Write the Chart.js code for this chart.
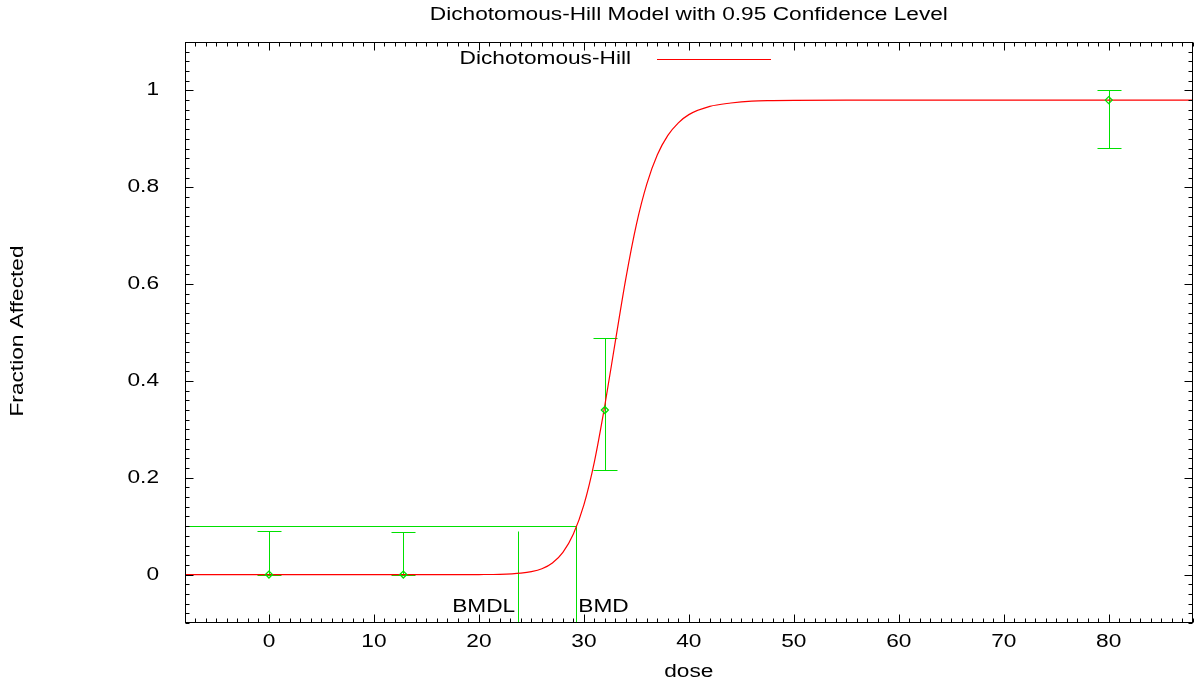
<!DOCTYPE html>
<html>
<head>
<meta charset="utf-8">
<script src="https://cdn.jsdelivr.net/npm/chart.js@4/dist/chart.umd.min.js"></script>
<style>
  html, body { margin: 0; padding: 0; background: #ffffff; }
  #wrap { width: 1198px; height: 684px; position: relative; }
</style>
</head>
<body>
<div id="wrap"><canvas id="c" width="1198" height="684"></canvas></div>
<script>
// ---- data ----
const titleText = "Dichotomous-Hill Model with 0.95 Confidence Level";
const xTitle = "dose";
const yTitle = "Fraction Affected";
const legendLabel = "Dichotomous-Hill";

// observed dose groups with 95% confidence intervals
const obsDose  = [0, 12.8, 32, 80];
const obsFrac  = [0, 0, 0.34, 0.98];
const obsLower = [0, 0, 0.215, 0.882];
const obsUpper = [0.09, 0.088, 0.488, 1.0];

// fitted model curve
const curveDose = [-8, 0, 10, 18, 20, 22, 24, 25, 26, 27, 28, 29, 30, 31, 32, 33, 34, 35, 36, 37, 38, 39, 40, 42, 44, 46, 48, 50, 55, 60, 70, 80, 88];
const curveFrac = [0, 0, 0, 0, 0.0001, 0.0006, 0.003, 0.006, 0.012, 0.024, 0.046, 0.084, 0.144, 0.233, 0.35, 0.482, 0.612, 0.723, 0.807, 0.867, 0.907, 0.933, 0.95, 0.967, 0.974, 0.978, 0.979, 0.9795, 0.98, 0.98, 0.98, 0.98, 0.98];

// benchmark dose markers
const bmr = 0.1;
const bmd = 29.28;
const bmdl = 23.74;
const bmdlTop = 0.09;

// axes
const xMin = -8, xMax = 88;
const yMin = -0.1, yMax = 1.1;
const xTickValues = [0, 10, 20, 30, 40, 50, 60, 70, 80];
const xTickLabels = ["0", "10", "20", "30", "40", "50", "60", "70", "80"];
const yTickValues = [0, 0.2, 0.4, 0.6, 0.8, 1];
const yTickLabels = ["0", "0.2", "0.4", "0.6", "0.8", "1"];
const xMinorStep = 1;
const yMinorStep = 0.02;

// ---- styles ----
const GREEN = '#00e000';
const RED = '#ff0000';
const FONT = '18px "Liberation Sans", Arial, sans-serif';
const SX = 1.26;

function sText(ctx, text, x, y, align, rot) {
  ctx.save();
  ctx.translate(x, y);
  if (rot) ctx.rotate(rot);
  ctx.scale(SX, 1);
  ctx.font = FONT;
  ctx.fillStyle = '#000';
  ctx.textAlign = align;
  ctx.textBaseline = 'middle';
  ctx.fillText(text, 0, 0);
  ctx.restore();
}

const crisp = v => Math.round(v) + 0.5;

const decorPlugin = {
  id: 'decor',
  beforeDatasetsDraw(chart) {
    const ctx = chart.ctx;
    const xs = chart.scales.x, ys = chart.scales.y;
    ctx.save();
    ctx.strokeStyle = GREEN;
    ctx.lineWidth = 1;
    ctx.beginPath();
    // error bars
    for (let i = 0; i < obsDose.length; i++) {
      const px = crisp(xs.getPixelForValue(obsDose[i]));
      const pl = crisp(ys.getPixelForValue(obsLower[i]));
      const pu = crisp(ys.getPixelForValue(obsUpper[i]));
      ctx.moveTo(px, pl); ctx.lineTo(px, pu);
      ctx.moveTo(px - 12, pl); ctx.lineTo(px + 12, pl);
      ctx.moveTo(px - 12, pu); ctx.lineTo(px + 12, pu);
    }
    // BMR / BMD / BMDL markers
    const yB = crisp(ys.getPixelForValue(bmr));
    const xB = crisp(xs.getPixelForValue(bmd));
    const xL = crisp(xs.getPixelForValue(bmdl));
    const yBot = ys.getPixelForValue(yMin);
    ctx.moveTo(xs.getPixelForValue(xMin), yB); ctx.lineTo(xB, yB); ctx.lineTo(xB, yBot);
    ctx.moveTo(xL, crisp(ys.getPixelForValue(bmdlTop))); ctx.lineTo(xL, yBot);
    ctx.stroke();
    ctx.restore();
  },
  afterDraw(chart) {
    const ctx = chart.ctx;
    const a = chart.chartArea;
    const xs = chart.scales.x, ys = chart.scales.y;
    const L = Math.round(a.left) + 0.5, R = Math.round(a.right) - 0.5;
    const T = Math.round(a.top) + 0.5, B = Math.round(a.bottom) - 0.5;
    ctx.save();
    ctx.strokeStyle = '#000';
    ctx.lineWidth = 1;
    ctx.strokeRect(L, T, R - L, B - T);
    ctx.beginPath();
    for (let v = Math.ceil(xMin); v <= xMax + 1e-9; v += xMinorStep) {
      const px = crisp(xs.getPixelForValue(v));
      const major = xTickValues.indexOf(v) >= 0;
      const len = major ? 8 : 4;
      ctx.moveTo(px, B); ctx.lineTo(px, B - len);
      ctx.moveTo(px, T); ctx.lineTo(px, T + len);
    }
    const nY = Math.round((yMax - yMin) / yMinorStep);
    for (let k = 0; k <= nY; k++) {
      const v = yMin + k * yMinorStep;
      const py = crisp(ys.getPixelForValue(v));
      const major = yTickValues.some(t => Math.abs(t - v) < 1e-6);
      const len = major ? 8 : 4;
      ctx.moveTo(L, py); ctx.lineTo(L + len, py);
      ctx.moveTo(R, py); ctx.lineTo(R - len, py);
    }
    ctx.stroke();
    ctx.restore();

    xTickValues.forEach((v, i) => sText(ctx, xTickLabels[i], xs.getPixelForValue(v), 642, 'center'));
    yTickValues.forEach((v, i) => sText(ctx, yTickLabels[i], 159, ys.getPixelForValue(v), 'right'));

    sText(ctx, titleText, (a.left + a.right) / 2, 15, 'center');
    sText(ctx, xTitle, (a.left + a.right) / 2, 672, 'center');
    sText(ctx, yTitle, 18, 331, 'center', -Math.PI / 2);

    sText(ctx, 'BMDL', xs.getPixelForValue(bmdl) - 3, 607, 'right');
    sText(ctx, 'BMD', xs.getPixelForValue(bmd) + 2, 607, 'left');

    sText(ctx, legendLabel, 631, 59, 'right');
    ctx.save();
    ctx.strokeStyle = RED;
    ctx.lineWidth = 1;
    ctx.beginPath();
    ctx.moveTo(657, 59.5); ctx.lineTo(771, 59.5);
    ctx.stroke();
    ctx.restore();
  }
};

const curveData = curveDose.map((d, i) => ({ x: d, y: curveFrac[i] }));
const obsData = obsDose.map((d, i) => ({ x: d, y: obsFrac[i] }));

new Chart(document.getElementById('c'), {
  type: 'scatter',
  data: {
    datasets: [
      { type: 'line', label: legendLabel, data: curveData, borderColor: RED, borderWidth: 1.2, pointRadius: 0, fill: false, cubicInterpolationMode: 'monotone', order: 2 },
      { type: 'scatter', label: 'Observed', data: obsData, pointStyle: 'rectRot', pointRadius: 3.5, borderColor: GREEN, backgroundColor: 'rgba(255,255,255,0)', pointBorderWidth: 1.3, order: 1 }
    ]
  },
  options: {
    responsive: false,
    animation: false,
    events: [],
    layout: { padding: { left: 185, right: 5, top: 42, bottom: 61 } },
    plugins: { legend: { display: false }, title: { display: false }, tooltip: { enabled: false } },
    scales: {
      x: { type: 'linear', min: xMin, max: xMax, display: false },
      y: { type: 'linear', min: yMin, max: yMax, display: false }
    }
  },
  plugins: [decorPlugin]
});
</script>
</body>
</html>
